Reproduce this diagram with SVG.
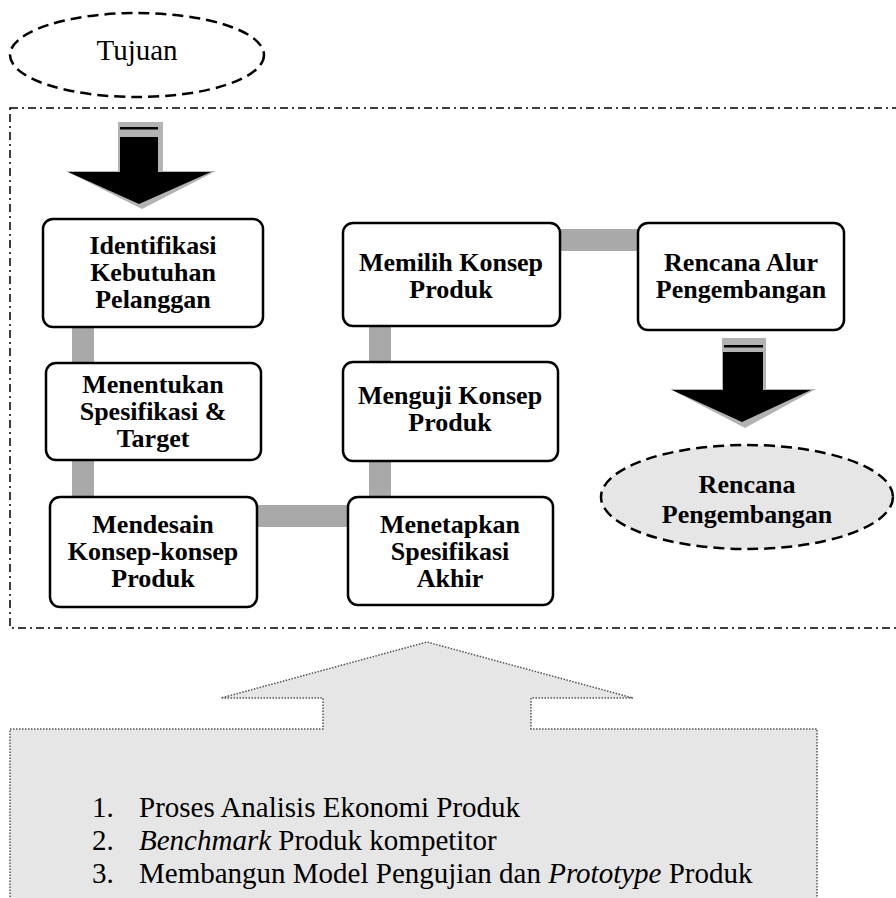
<svg xmlns="http://www.w3.org/2000/svg" width="896" height="898" viewBox="0 0 896 898">
<style>
.box{fill:#fff;stroke:#000;stroke-width:2.5}
.bt{font-family:"Liberation Serif",serif;font-weight:bold;font-size:26px;text-anchor:middle;fill:#000}
.nt{font-family:"Liberation Serif",serif;font-size:29px;fill:#000}
.conn{fill:#a9a9a9}
.dash{stroke:#000;stroke-width:2.5;stroke-dasharray:11,6}
.shadow{fill:#b3b3b3}
</style>
<rect width="896" height="898" fill="#fff"/>
<!-- outer dash-dot frame -->
<rect x="10" y="108" width="900" height="520" fill="none" stroke="#000" stroke-width="1.5" stroke-dasharray="8,4,2,4"/>

<g id="connectors">
<rect class="conn" x="72" y="326" width="22" height="38"/>
<rect class="conn" x="72" y="460" width="22" height="38"/>
<rect class="conn" x="256" y="505" width="93" height="22"/>
<rect class="conn" x="369" y="460" width="22" height="38"/>
<rect class="conn" x="369" y="325" width="22" height="38"/>
<rect class="conn" x="559" y="229" width="80" height="22"/>
</g>

<g id="tujuan">
<ellipse cx="137" cy="55" rx="127" ry="42" fill="#fff" class="dash"/>
<text class="nt" x="137" y="60" text-anchor="middle">Tujuan</text>
</g>

<g id="arrow1">
<rect class="shadow" x="118" y="122" width="45" height="54"/>
<polygon class="shadow" points="66,171 216,171 142,209"/>
<rect x="120" y="127" width="38" height="2.5" fill="#000"/>
<rect x="120" y="137" width="38" height="37" fill="#000"/>
<polygon points="68,172 211,172 139,204" fill="#000"/>
</g>

<g id="n1">
<rect class="box" x="43" y="219" width="220" height="108" rx="10"/>
<text class="bt" x="153" y="254">Identifikasi</text>
<text class="bt" x="153" y="281">Kebutuhan</text>
<text class="bt" x="153" y="308">Pelanggan</text>
</g>

<g id="n2">
<rect class="box" x="46" y="363" width="215" height="97" rx="10"/>
<text class="bt" x="153" y="393">Menentukan</text>
<text class="bt" x="153" y="420">Spesifikasi &amp;</text>
<text class="bt" x="153" y="447">Target</text>
</g>

<g id="n3">
<rect class="box" x="50" y="497" width="207" height="110" rx="10"/>
<text class="bt" x="153" y="533">Mendesain</text>
<text class="bt" x="153" y="560">Konsep-konsep</text>
<text class="bt" x="153" y="587">Produk</text>
</g>

<g id="n4">
<rect class="box" x="348" y="497" width="205" height="108" rx="10"/>
<text class="bt" x="450" y="533">Menetapkan</text>
<text class="bt" x="450" y="560">Spesifikasi</text>
<text class="bt" x="450" y="587">Akhir</text>
</g>

<g id="n5">
<rect class="box" x="343" y="362" width="215" height="99" rx="10"/>
<text class="bt" x="450" y="404">Menguji Konsep</text>
<text class="bt" x="450" y="431">Produk</text>
</g>

<g id="n6">
<rect class="box" x="343" y="223" width="217" height="103" rx="10"/>
<text class="bt" x="451" y="271">Memilih Konsep</text>
<text class="bt" x="451" y="298">Produk</text>
</g>

<g id="n7">
<rect class="box" x="638" y="223" width="206" height="107" rx="10"/>
<text class="bt" x="741" y="271">Rencana Alur</text>
<text class="bt" x="741" y="298">Pengembangan</text>
</g>

<g id="arrow2">
<rect class="shadow" x="722" y="338" width="44" height="54"/>
<polygon class="shadow" points="670,389 816,389 745,428"/>
<rect x="724" y="345" width="39" height="2.5" fill="#000"/>
<rect x="723" y="352" width="40" height="39" fill="#000"/>
<polygon points="672,390 811,390 742,422" fill="#000"/>
</g>

<g id="rencana">
<ellipse cx="747" cy="497" rx="146" ry="52" fill="#e6e6e6" class="dash"/>
<text class="bt" x="747" y="493">Rencana</text>
<text class="bt" x="747" y="523">Pengembangan</text>
</g>

<g id="inputs">
<polygon points="10,729 323,729 323,698 221,698 427,642 633,698 531,698 531,729 817,729 817,905 10,905" fill="#e6e6e6" stroke="#555" stroke-width="1.5" stroke-dasharray="1.5,1.5"/>
<text class="nt" x="92" y="817">1.</text>
<text class="nt" x="139" y="817">Proses Analisis Ekonomi Produk</text>
<text class="nt" x="92" y="850">2.</text>
<text class="nt" x="139" y="850"><tspan font-style="italic">Benchmark</tspan> Produk kompetitor</text>
<text class="nt" x="92" y="883">3.</text>
<text class="nt" x="139" y="883">Membangun Model Pengujian dan <tspan font-style="italic">Prototype</tspan> Produk</text>
</g>
</svg>
